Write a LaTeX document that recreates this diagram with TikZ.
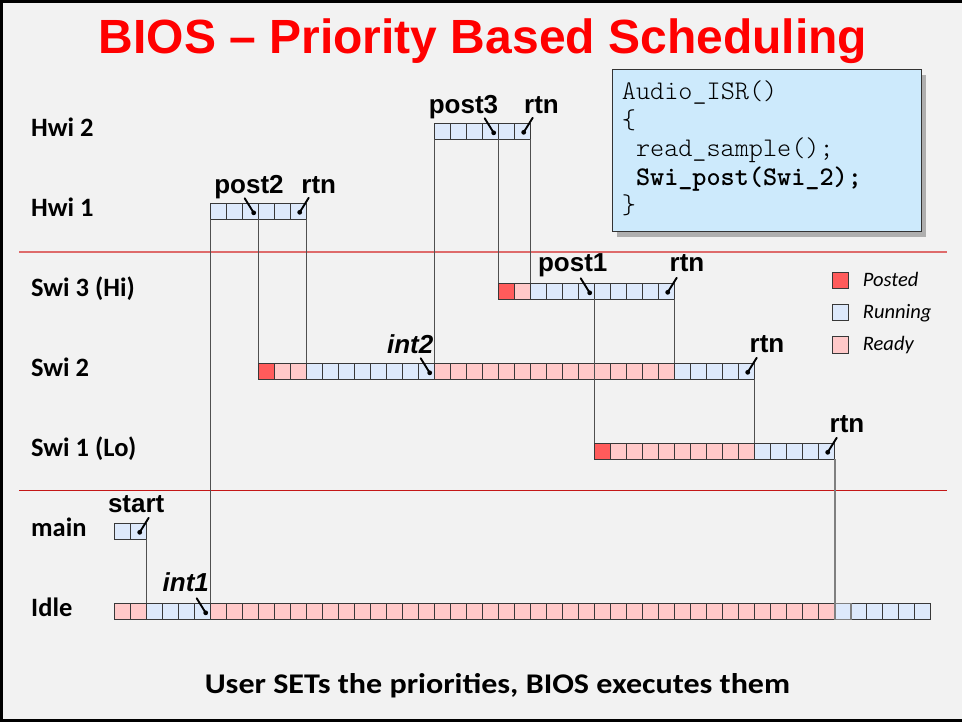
\documentclass[tikz,border=0pt]{standalone}
\usepackage{fontspec}
\setmainfont{Liberation Sans}
\newfontfamily\carl{Carlito}
\newfontfamily\codefont{Latin Modern Mono Light}

\definecolor{bgcol}{HTML}{F2F2F2}
\definecolor{titlered}{HTML}{FF0000}
\definecolor{runfill}{HTML}{DDE9FB}
\definecolor{readyfill}{HTML}{FFC9C9}
\definecolor{postfill}{HTML}{FF5B5B}
\definecolor{cellline}{HTML}{383838}
\definecolor{linkgray}{HTML}{505050}
\definecolor{bandline}{rgb}{0.87,0.42,0.42}
\definecolor{bandlinedark}{rgb}{0.77,0.09,0.09}
\definecolor{codefill}{HTML}{CDEAFC}
\definecolor{shadowgray}{HTML}{AFAFAF}

\tikzset{
  cellbox/.style={draw=cellline, line width=0.9pt, minimum width=16pt,
    minimum height=16pt, inner sep=0pt, outer sep=0pt, anchor=north west},
  run/.style={cellbox, fill=runfill},
  ready/.style={cellbox, fill=readyfill},
  posted/.style={cellbox, fill=postfill},
  link/.style={draw=linkgray, line width=1.4pt},
  ptr/.style={line width=1.9pt, line cap=round},
  evt/.style={font=\fontsize{26}{26}\selectfont\bfseries, anchor=base, inner sep=0pt},
  evti/.style={font=\fontsize{26}{26}\selectfont\bfseries\itshape, anchor=base, inner sep=0pt},
  rowlab/.style={font=\carl\fontsize{26.5}{26.5}\selectfont\bfseries, anchor=base west, inner sep=0pt},
  legtxt/.style={font=\carl\fontsize{20.5}{20.5}\selectfont\itshape, anchor=base west, inner sep=0pt},
  codeline/.style={font=\codefont\fontsize{26.9}{26.9}\selectfont, anchor=base west, inner sep=0pt},
}

% a run of equal time slots on one task row
\newcommand\cellrun[5]{\foreach \i in {#3,...,#4}{\node[#5] (#1-\i) at ({114.7+16*\i},#2) {};}}
% event marker leaning in from the left / from the right of a slot edge
\newcommand\ptrL[1]{\draw[ptr] ([shift={(-14,-5)}]#1) -- ([shift={(-5,9.5)}]#1);
  \fill ([shift={(-5,9.5)}]#1) circle (2.4pt);}
\newcommand\ptrR[1]{\draw[ptr] ([shift={(2,-5.5)}]#1) -- ([shift={(-7,9)}]#1);
  \fill ([shift={(-7,9)}]#1) circle (2.4pt);}

\begin{document}
\begin{tikzpicture}[x=1pt, y=-1pt]
\useasboundingbox (0,0) rectangle (962,722);
\fill[bgcol] (0,0) rectangle (962,722);
\draw[line width=2.6pt] (964,1.3) -- (1.3,1.3) -- (1.3,720.7) -- (964,720.7);

% title
\node[font=\fontsize{48}{48}\selectfont\bfseries, text=titlered, anchor=base, inner sep=0pt]
  (title) at (483,54) {BIOS – Priority Based Scheduling};

% priority band separators
\fill[bandline] (19,251) rectangle (946.7,253);
\fill[bandlinedark] (19,490) rectangle (946.7,491);

% row labels
\node[rowlab] (lhwiB) at (31,136.8) {Hwi 2};
\node[rowlab] (lhwiA) at (31,216.8) {Hwi 1};
\node[rowlab] (lswiC) at (31,296.8) {Swi 3 (Hi)};
\node[rowlab] (lswiB) at (31,376.8) {Swi 2};
\node[rowlab] (lswiA) at (31,456.8) {Swi 1 (Lo)};
\node[rowlab] (lmain) at (31,536.8) {main};
\node[rowlab] (lidle) at (31,616.8) {Idle};

% time slots
\cellrun{hwiB}{123.3}{20}{25}{run}
\cellrun{hwiA}{203.3}{6}{11}{run}
\cellrun{swiC}{283.3}{24}{24}{posted}
\cellrun{swiC}{283.3}{25}{25}{ready}
\cellrun{swiC}{283.3}{26}{34}{run}
\cellrun{swiB}{363.3}{9}{9}{posted}
\cellrun{swiB}{363.3}{10}{11}{ready}
\cellrun{swiB}{363.3}{12}{19}{run}
\cellrun{swiB}{363.3}{20}{34}{ready}
\cellrun{swiB}{363.3}{35}{39}{run}
\cellrun{swiA}{443.3}{30}{30}{posted}
\cellrun{swiA}{443.3}{31}{39}{ready}
\cellrun{swiA}{443.3}{40}{44}{run}
\cellrun{main}{523.3}{0}{1}{run}
\cellrun{idle}{603.3}{0}{1}{ready}
\cellrun{idle}{603.3}{2}{5}{run}
\cellrun{idle}{603.3}{6}{44}{ready}
\cellrun{idle}{603.3}{46}{50}{run}
\node[run, draw=gray, line width=1.6pt] (idle-45) at ({114.7+16*45},603.3) {};

% context switches
\draw[link] (main-1.south east) -- (idle-2.north west);
\draw[link] (hwiA-6.south west) -- (idle-6.north west);
\draw[link] (hwiA-8.south east) -- (swiB-9.north west);
\draw[link] (hwiA-11.south east) -- (swiB-12.north west);
\draw[link] (hwiB-20.south west) -- (swiB-20.north west);
\draw[link] (hwiB-23.south east) -- (swiC-24.north west);
\draw[link] (hwiB-25.south east) -- (swiC-26.north west);
\draw[link] (swiC-29.south east) -- (swiA-30.north west);
\draw[link] (swiC-34.south east) -- (swiB-35.north west);
\draw[link] (swiB-39.south east) -- (swiA-40.north west);
\draw[link, draw=gray, line width=2pt] (swiA-44.south east) -- (idle-45.north west);

% events
\ptrL{hwiA-8.north east}   \node[evt] (epost2) at (249,193.3) {post2};
\ptrR{hwiA-11.north east}  \node[evt] (ertnA) at (318.8,193.3) {rtn};
\ptrL{hwiB-23.north east}  \node[evt] (epost3) at (463.5,114) {post3};
\ptrR{hwiB-25.north east}  \node[evt] (ertnB) at (541.5,114) {rtn};
\ptrL{swiC-29.north east}  \node[evt] (epost1) at (572.7,272) {post1};
\ptrR{swiC-34.north east}  \node[evt] (ertnC) at (687,272) {rtn};
\ptrL{swiB-19.north east}  \node[evti] (eint2) at (410.2,353.3) {int2};
\ptrR{swiB-39.north east}  \node[evt] (ertnD) at (767,352.5) {rtn};
\ptrR{swiA-44.north east}  \node[evt] (ertnE) at (847,432.7) {rtn};
\ptrL{idle-5.north east}   \node[evti] (eint1) at (185.8,591.7) {int1};
\ptrR{main-1.north east}   \node[evt] (estart) at (136.2,512.3) {start};

% legend
\node[posted, minimum height=16.5pt] (kpost) at (832.3,272.3) {};
\node[run, minimum height=16.5pt] (krun) at (832.3,304.3) {};
\node[ready, minimum height=16.5pt] (kready) at (832.3,336.6) {};
\node[legtxt] (tpost) at (862.7,286.7) {Posted};
\node[legtxt] (trun) at (862.7,318.7) {Running};
\node[legtxt] (tready) at (862.7,350.9) {Ready};

% ISR listing
\fill[shadowgray] (617,74.7) rectangle (926.3,236.7);
\draw[fill=codefill, draw=black!80, line width=0.9pt] (612.3,69.7) rectangle (921.3,231.7);
\node[codeline] (code1) at (621.7,100) {Audio\_ISR()};
\node[codeline] (code2) at (621.7,128.4) {\{};
\node[codeline] (code3) at (635.8,156.8) {read\_sample();};
\node[codeline, font=\codefont\bfseries\fontsize{26.9}{26.9}\selectfont] (code4) at (635.8,185.2) {Swi\_post(Swi\_2);};
\node[codeline] (code5) at (621.7,213.6) {\}};

% footer
\node[font=\carl\fontsize{28.5}{28.5}\selectfont\bfseries, anchor=base, inner sep=0pt]
  (footer) at (497.5,693) {\scalebox{1.125}[1]{User SETs the priorities, BIOS executes them}};
\end{tikzpicture}
\end{document}
